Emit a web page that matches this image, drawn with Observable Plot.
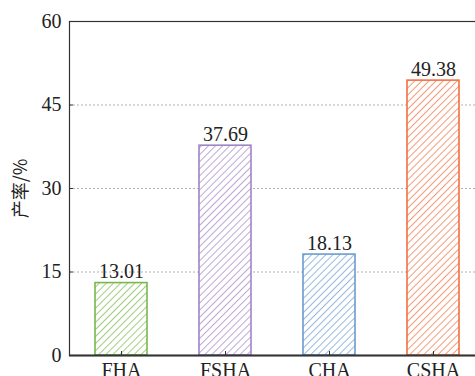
<!DOCTYPE html>
<html><head><meta charset="utf-8">
<script src="https://cdn.jsdelivr.net/npm/d3@7"></script>
<script src="https://cdn.jsdelivr.net/npm/@observablehq/plot@0.6"></script>
<style>body{margin:0;background:#fff} svg{display:block}</style>
</head><body><div id="chart"></div>
<script>
const categories = ["FHA", "FSHA", "CHA", "CSHA"];
const values = [13.01, 37.69, 18.13, 49.38];
const colors = ["#78b84a", "#9f84c6", "#6c9bcf", "#f2703f"];
const yTicks = [0, 15, 30, 45, 60];
const gridTicks = [15, 30, 45];
const yLabel = "产率/%";

const data = categories.map((c, i) => ({cat: c, value: values[i], pattern: `url(#hatch${i})`, color: colors[i]}));

const serif = "'Liberation Serif', 'Times New Roman', serif";
const chart = Plot.plot({
  width: 475, height: 376,
  marginLeft: 69, marginRight: -10, marginTop: 21, marginBottom: 21,
  style: {fontFamily: serif, fontSize: "20px", color: "#222", background: "#fff", overflow: "hidden"},
  x: {domain: categories, range: [69, 485], paddingInner: 0.5, paddingOuter: 0.25, label: null},
  y: {domain: [0, 60], label: null},
  color: {type: "identity"},
  marks: [
    Plot.gridY(gridTicks, {stroke: "#b0b0b0", strokeOpacity: 1, strokeDasharray: "2,2"}),
    Plot.barY(data, {x: "cat", y: "value", fill: "pattern", stroke: "color", strokeWidth: 1.6}),
    Plot.text(data, {x: "cat", y: "value", text: d => d.value.toFixed(2), lineAnchor: "bottom", dy: -5, fontSize: 20, fill: "#222"}),
    Plot.frame({stroke: "#333", strokeWidth: 1.2}),
    Plot.ruleY([0], {stroke: "#333", strokeWidth: 2}),
    Plot.axisY(yTicks, {tickSize: -4, tickPadding: 12, stroke: "#333", fontSize: 20, fill: "#222"}),
    Plot.axisX({tickSize: -4, tickPadding: 11, stroke: "#333", fontSize: 20, fill: "#222"}),
    Plot.text([yLabel], {frameAnchor: "left", textAnchor: "middle", dx: -48, rotate: -90, fontSize: 18, fill: "#222", fontFamily: "'Noto Sans CJK SC', " + serif})
  ]
});

const svg = d3.select(chart);
const defs = svg.insert("defs", ":first-child");
colors.forEach((c, i) => {
  const p = defs.append("pattern")
    .attr("id", `hatch${i}`)
    .attr("patternUnits", "userSpaceOnUse")
    .attr("width", 5).attr("height", 5)
    .attr("patternTransform", "rotate(45)");
  p.append("rect").attr("width", 5).attr("height", 5).attr("fill", "#fff");
  p.append("line").attr("x1", 0).attr("y1", 0).attr("x2", 0).attr("y2", 5)
    .attr("stroke", c).attr("stroke-width", 1.4);
});
document.getElementById("chart").append(chart);
</script>
</body></html>
